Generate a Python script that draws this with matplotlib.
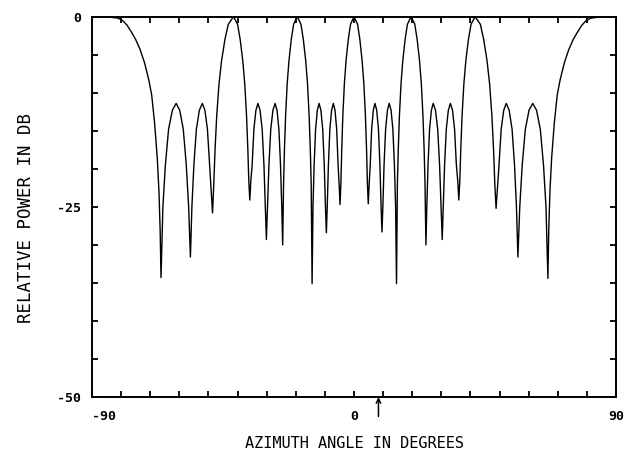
import numpy as np
import matplotlib
matplotlib.use("Agg")
import matplotlib.pyplot as plt
from matplotlib.ticker import MultipleLocator

# pattern: (azimuth deg, relative power dB)
angle_deg = [
    -90, -86, -83, -81, -79.5, -78, -76.5, -75, -73.5, -72, -70.5, -69.5, -68.5, -67.6, -67, -66.6, -66.3,
    -65.65, -64.8, -63.7, -62.4, -61.1, -59.87, -58.65, -57.62, -56.81, -56.2,
    -55.69, -55.01, -54.15, -53.13, -52.1, -51.22, -50.35, -49.61, -49.04, -48.6,
    -48.17, -47.74, -47.16, -46.37, -45.5, -44.35, -43.2, -41.4, -40.0, -39.1, -38.21, -37.54, -36.92, -36.47, -36.14, -35.8,
    -35.45, -34.99, -34.4, -33.7, -33.0, -32.28, -31.55, -30.94, -30.46, -30.1,
    -29.73, -29.23, -28.6, -27.85, -27.1, -26.45, -25.8, -25.25, -24.82, -24.5,
    -24.2, -23.9, -23.5, -22.95, -22.35, -21.55, -20.75, -19.5, -18.22, -17.41, -16.59, -15.98, -15.42, -15.01, -14.71, -14.4,
    -14.1, -13.7, -13.2, -12.6, -12.0, -11.38, -10.75, -10.22, -9.81, -9.5,
    -9.2, -8.8, -8.3, -7.7, -7.1, -6.53, -5.95, -5.47, -5.09, -4.8,
    -4.51, -4.22, -3.84, -3.31, -2.74, -1.97, -1.2, 0, 1.23, 2.01, 2.79, 3.38, 3.92, 4.31, 4.61, 4.9,
    5.19, 5.57, 6.05, 6.63, 7.2, 7.8, 8.4, 8.9, 9.3, 9.6,
    9.91, 10.32, 10.85, 11.48, 12.1, 12.73, 13.35, 13.88, 14.29, 14.6,
    14.9, 15.2, 15.6, 16.15, 16.75, 17.55, 18.35, 19.6, 20.88, 21.69, 22.51, 23.12, 23.68, 24.09, 24.39, 24.7,
    25.01, 25.42, 25.95, 26.58, 27.2, 27.98, 28.75, 29.4, 29.91, 30.3,
    30.65, 31.11, 31.7, 32.4, 33.1, 33.83, 34.55, 35.16, 35.64, 36.0,
    36.34, 36.67, 37.12, 37.74, 38.41, 39.3, 40.2, 41.6, 43.4, 44.55, 45.7, 46.57, 47.36, 47.94, 48.37, 48.8,
    49.24, 49.81, 50.55, 51.43, 52.3, 53.3, 54.3, 55.14, 55.8, 56.3,
    56.94, 57.78, 58.85, 60.12, 61.4, 62.7, 64.0, 65.09, 65.95, 66.6,
    66.9, 67.3, 67.9, 68.8, 69.8, 70.8, 72.3, 73.8, 75.3, 76.8, 78.3, 79.8, 81.3, 83.3, 86, 90,
]
power_db = [
    0, 0, -0.1, -0.2, -0.5, -1.1, -2.0, -3.0, -4.3, -6.0, -8.3, -10.3, -14.0, -18.5, -23, -28, -34.3,
    -25, -19.5, -14.8, -12.3, -11.4, -12.3, -14.8, -19.5, -25, -31.6,
    -25, -19.5, -14.8, -12.3, -11.4, -12.3, -14.8, -19.5, -23.3, -25.8,
    -22, -17.5, -13, -8.8, -5.8, -3.0, -1.0, 0, -1.0, -3.0, -5.8, -8.8, -13, -17.5, -21.6, -24.1,
    -21.6, -19.5, -14.8, -12.3, -11.4, -12.3, -14.8, -19.5, -25, -29.3,
    -25, -19.5, -14.8, -12.3, -11.4, -12.3, -14.8, -19.5, -25, -30.0,
    -22, -17.5, -13, -8.8, -5.8, -3.0, -1.0, 0, -1.0, -3.0, -5.8, -8.8, -13, -17.5, -22, -35.1,
    -25, -19.5, -14.8, -12.3, -11.4, -12.3, -14.8, -19.5, -25, -28.4,
    -25, -19.5, -14.8, -12.3, -11.4, -12.3, -14.8, -19.5, -22.2, -24.7,
    -22, -17.5, -13, -8.8, -5.8, -3.0, -1.0, 0, -1.0, -3.0, -5.8, -8.8, -13, -17.5, -22, -24.6,
    -22.1, -19.5, -14.8, -12.3, -11.4, -12.3, -14.8, -19.5, -25, -28.3,
    -25, -19.5, -14.8, -12.3, -11.4, -12.3, -14.8, -19.5, -25, -35.1,
    -22, -17.5, -13, -8.8, -5.8, -3.0, -1.0, 0, -1.0, -3.0, -5.8, -8.8, -13, -17.5, -22, -30.0,
    -25, -19.5, -14.8, -12.3, -11.4, -12.3, -14.8, -19.5, -25, -29.3,
    -25, -19.5, -14.8, -12.3, -11.4, -12.3, -14.8, -19.5, -21.6, -24.1,
    -21.6, -17.5, -13, -8.8, -5.8, -3.0, -1.0, 0, -1.0, -3.0, -5.8, -8.8, -13, -17.5, -22, -25.2,
    -22.7, -19.5, -14.8, -12.3, -11.4, -12.3, -14.8, -19.5, -25, -31.6,
    -25, -19.5, -14.8, -12.3, -11.4, -12.3, -14.8, -19.5, -25, -34.4,
    -28, -23, -18.5, -14.0, -10.3, -8.3, -6.0, -4.3, -3.0, -2.0, -1.1, -0.5, -0.2, -0.1, 0, 0,
]

x_ticklabels = ["-90", "0", "90"]
y_ticklabels = ["-50", "-25", "0"]
marker_angle = 8.4   # arrow under the x axis

fig = plt.figure(figsize=(6.32, 4.51), dpi=100)
ax = fig.add_axes([0.1456, 0.1197, 0.8291, 0.8433])

ax.plot(angle_deg, power_db, color="black", lw=1.0)

ax.set_xlim(-90, 90)
ax.set_ylim(-50, 0)
ax.set_xticks([-90, 0, 90])
ax.set_yticks([-50, -25, 0])
ax.xaxis.set_minor_locator(MultipleLocator(10))
ax.yaxis.set_minor_locator(MultipleLocator(5))
ax.tick_params(which="both", direction="in", top=True, right=True, length=4, width=1.3)
for sp in ax.spines.values():
    sp.set_linewidth(1.4)

mono = "DejaVu Sans Mono"
ax.set_xticklabels(x_ticklabels, family=mono, fontweight="bold", fontsize=9.5)
ax.set_yticklabels(y_ticklabels, family=mono, fontweight="bold", fontsize=9.5)
ax.get_xticklabels()[0].set_ha("left")
ax.tick_params(axis="x", pad=9)
ax.tick_params(axis="y", pad=8)

ax.set_xlabel("AZIMUTH ANGLE IN DEGREES", family=mono, fontsize=11, labelpad=10)
ax.set_ylabel("RELATIVE POWER IN DB", family=mono, fontsize=12.5, labelpad=17)
ax.yaxis.set_label_coords(-0.108, 0.47)

ax.annotate("", xy=(marker_angle, -50), xycoords="data",
            xytext=(0, -14), textcoords="offset points",
            arrowprops=dict(arrowstyle="->", color="black", lw=1.1,
                            mutation_scale=8, shrinkA=0, shrinkB=0),
            annotation_clip=False)

fig.savefig("out.png", dpi=100)
